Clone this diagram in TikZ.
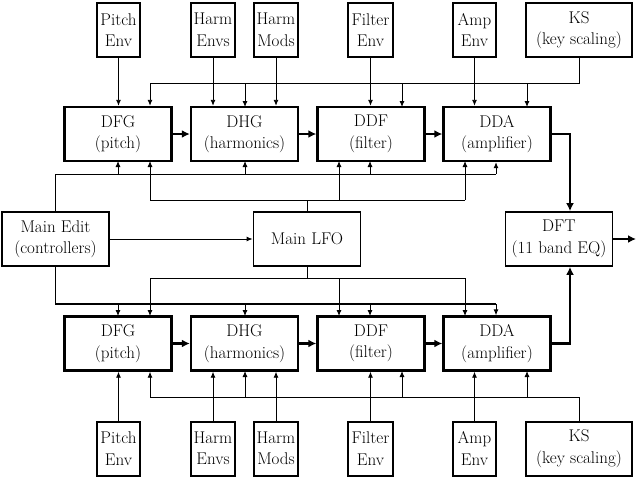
\documentclass[tikz,border=0pt]{standalone}
\usetikzlibrary{arrows.meta}
\begin{document}
\begin{tikzpicture}[x=1pt,y=-1pt,
  font=\fontsize{17}{21.5}\selectfont,
  src/.style={draw,line width=2pt,inner sep=0pt,align=center,minimum height=54pt},
  mod/.style={draw,line width=2.4pt,inner sep=0pt,align=center,minimum width=107pt,minimum height=54pt},
  ctl/.style={draw,line width=1.8pt,inner sep=0pt,align=center,minimum width=107pt,minimum height=54pt},
  wire/.style={line width=0.9pt},
  sm/.style={line width=0.9pt,-{Latex[length=6pt,width=5pt]}},
  big/.style={line width=2.2pt,-{Latex[length=8pt,width=8pt]}},
  thick bus/.style={line width=1.8pt}]
\useasboundingbox (0,0) rectangle (636,477);
% top sources
\node[src,minimum width=43pt] (pe1) at (118.5,30) {Pitch\\Env};
\node[src,minimum width=44pt] (he1) at (213,30) {Harm\\Envs};
\node[src,minimum width=44pt] (hm1) at (276,30) {Harm\\Mods};
\node[src,minimum width=45pt] (fe1) at (370.5,30) {Filter\\Env};
\node[src,minimum width=43pt] (ae1) at (474.5,30) {Amp\\Env};
\node[src,minimum width=106pt] (ks1) at (579,30) {KS\\(key scaling)};
% bottom sources
\node[src,minimum width=43pt] (pe2) at (118.5,448.5) {Pitch\\Env};
\node[src,minimum width=44pt] (he2) at (213,448.5) {Harm\\Envs};
\node[src,minimum width=44pt] (hm2) at (276,448.5) {Harm\\Mods};
\node[src,minimum width=45pt] (fe2) at (370.5,448.5) {Filter\\Env};
\node[src,minimum width=43pt] (ae2) at (474.5,448.5) {Amp\\Env};
\node[src,minimum width=106pt] (ks2) at (579,448.5) {KS\\(key scaling)};
% upper modules
\node[mod] (dfg1) at (118,134) {DFG\\(pitch)};
\node[mod] (dhg1) at (244.5,134) {DHG\\(harmonics)};
\node[mod] (ddf1) at (371,134) {DDF\\(filter)};
\node[mod] (dda1) at (497,134) {DDA\\(amplifier)};
% lower modules
\node[mod] (dfg2) at (118,343.5) {DFG\\(pitch)};
\node[mod] (dhg2) at (244.5,343.5) {DHG\\(harmonics)};
\node[mod] (ddf2) at (371,343.5) {DDF\\(filter)};
\node[mod] (dda2) at (497,343.5) {DDA\\(amplifier)};
% middle
\node[ctl] (me) at (55.5,239) {Main Edit\\(controllers)};
\node[ctl] (lfo) at (307,239) {Main LFO};
\node[ctl] (dft) at (559,239) {DFT\\(11 band EQ)};
\coordinate (out) at (636,239);

% ---- upper: direct source connections
\draw[sm] (pe1.south) -- (pe1.south |- dfg1.north);
\draw[sm] (he1.south) -- (he1.south |- dhg1.north);
\draw[sm] (hm1.south) -- (hm1.south |- dhg1.north);
\draw[sm] (fe1.south) -- (fe1.south |- ddf1.north);
\draw[sm] (ae1.south) -- (ae1.south |- dda1.north);
% KS bus (upper)
\coordinate (kb1) at (150,83);
\draw[wire] (ks1.south) |- (kb1);
\draw[sm] (kb1) -- (kb1 |- dfg1.north);
\draw[sm] (245,83) -- (245,107);
\draw[sm] (402,83) -- (402,107);
\draw[sm] (527,83) -- (527,107);
% ---- lower: direct source connections
\draw[sm] (pe2.north) -- (pe2.north |- dfg2.south);
\draw[sm] (he2.north) -- (he2.north |- dhg2.south);
\draw[sm] (hm2.north) -- (hm2.north |- dhg2.south);
\draw[sm] (fe2.north) -- (fe2.north |- ddf2.south);
\draw[sm] (ae2.north) -- (ae2.north |- dda2.south);
\coordinate (kb2) at (150,397);
\draw[wire] (ks2.north) |- (kb2);
\draw[sm] (kb2) -- (kb2 |- dfg2.south);
\draw[sm] (245,397) -- (245,371);
\draw[sm] (402,397) -- (402,371);
\draw[sm] (527,397) -- (527,371);

% ---- module chains
\draw[big] (dfg1) -- (dhg1);
\draw[big] (dhg1) -- (ddf1);
\draw[big] (ddf1) -- (dda1);
\draw[big] (dfg2) -- (dhg2);
\draw[big] (dhg2) -- (ddf2);
\draw[big] (ddf2) -- (dda2);
\draw[big] (dda1.east) -| ([xshift=11pt]dft.north);
\draw[big] (dda2.east) -| ([xshift=11pt]dft.south);
\draw[big] (dft.east) -- (out);

% ---- Main Edit (upper)
\coordinate (me1) at (496,174);
\draw[wire] (me.north) |- (me1);
\draw[sm] (118,174) -- (118,161);
\draw[sm] (245,174) -- (245,161);
\draw[sm] (370,174) -- (370,161);
\draw[sm] (me1) -- (me1 |- dda1.south);
% ---- Main LFO (upper)
\draw[wire] (lfo.north) -- (307,200);
\draw[wire] (150,200) -- (465,200);
\draw[sm] (150,200) -- (150,161);
\draw[sm] (339,200) -- (339,161);
\draw[sm] (465,200) -- (465,161);
% ---- Main Edit (lower)
\coordinate (me2) at (496,304);
\draw[thick bus] (me.south) |- (me2);
\draw[sm] (118,304) -- (118,316);
\draw[sm] (245,304) -- (245,316);
\draw[sm] (370,304) -- (370,316);
\draw[sm] (me2) -- (me2 |- dda2.north);
% ---- Main LFO (lower)
\draw[wire] (lfo.south) -- (307,278);
\draw[wire] (150,278) -- (465,278);
\draw[sm] (150,278) -- (150,316);
\draw[sm] (339,278) -- (339,316);
\draw[sm] (465,278) -- (465,316);
% Main Edit -> LFO
\draw[sm] (me) -- (lfo);
\end{tikzpicture}
\end{document}
